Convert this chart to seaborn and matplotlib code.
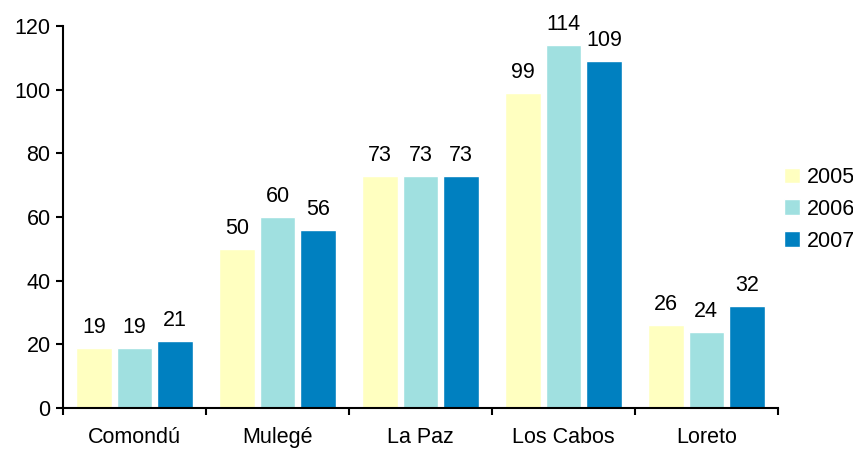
import matplotlib
matplotlib.use("Agg")
import matplotlib.pyplot as plt
import seaborn as sns
import pandas as pd
import numpy as np
from matplotlib.ticker import FixedLocator

# data
municipios = ["Comondú", "Mulegé", "La Paz", "Los Cabos", "Loreto"]
years = ["2005", "2006", "2007"]
v2005 = [19, 50, 73, 99, 26]
v2006 = [19, 60, 73, 114, 24]
v2007 = [21, 56, 73, 109, 32]
colors = ["#FFFFC0", "#A0E0E0", "#0080C0"]

df = pd.DataFrame({
    "municipio": municipios * 3,
    "year": [y for y in years for _ in municipios],
    "value": v2005 + v2006 + v2007,
})

sns.set_style("white")
plt.rcParams["font.family"] = ["Liberation Sans", "DejaVu Sans"]
plt.rcParams["text.color"] = "black"
plt.rcParams["xtick.color"] = "black"
plt.rcParams["ytick.color"] = "black"

fig = plt.figure(figsize=(8.54, 4.49), dpi=100)
ax = fig.add_axes([0.0738, 0.0913, 0.837, 0.851])

sns.barplot(data=df, x="municipio", y="value", hue="year", palette=colors,
            width=0.85, gap=0.12, saturation=1, ax=ax, legend=True)

for c in ax.containers:
    ax.bar_label(c, padding=7, fontsize=15.5, color="black")

ax.set_ylim(0, 120)
ax.set_xlim(-0.5, len(municipios) - 0.5)
ax.set_yticks(range(0, 121, 20))
ax.set_xlabel("")
ax.set_ylabel("")

for s in ["top", "right"]:
    ax.spines[s].set_visible(False)
for s in ["left", "bottom"]:
    ax.spines[s].set_color("black")
    ax.spines[s].set_linewidth(1.5)

# major ticks at group boundaries, labels on minor ticks at centres
ax.xaxis.set_major_locator(FixedLocator(np.arange(-0.5, len(municipios), 1.0)))
ax.xaxis.set_major_formatter(plt.NullFormatter())
ax.xaxis.set_minor_locator(FixedLocator(np.arange(len(municipios))))
ax.set_xticklabels(municipios, minor=True)
ax.tick_params(axis="x", which="major", direction="out", length=5, width=1.5,
               bottom=True)
ax.tick_params(axis="x", which="minor", length=0, pad=14, labelsize=15.5)
ax.tick_params(axis="y", direction="out", length=5, width=1.5,
               left=True, labelsize=15.5, pad=4)

ax.legend(loc="center left", bbox_to_anchor=(1.0, 0.52), frameon=False,
          fontsize=15.5, handlelength=0.75, handleheight=0.75, handletextpad=0.3,
          labelspacing=0.5, borderaxespad=0, borderpad=0.3)

fig.savefig("out.png", dpi=100)
